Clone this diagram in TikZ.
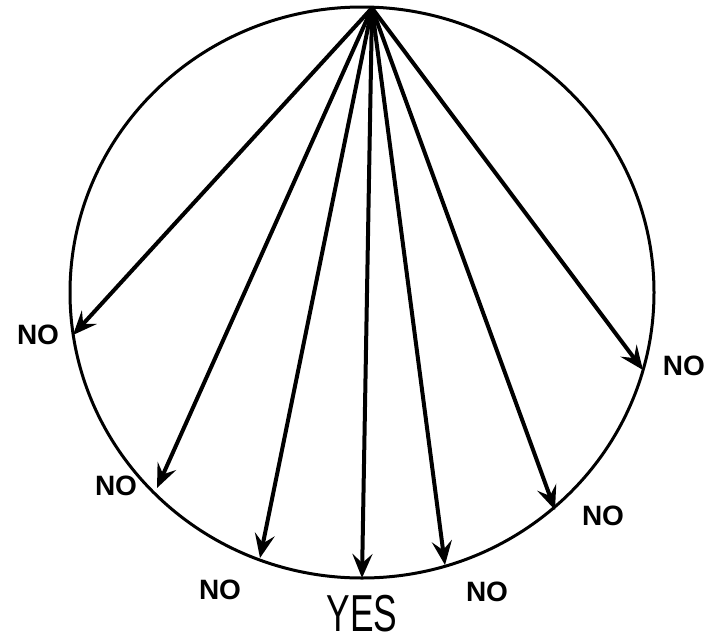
\documentclass[tikz,border=0pt]{standalone}
\usepackage{fontspec}
\setmainfont{Liberation Sans}
\usetikzlibrary{arrows.meta}
\begin{document}
\begin{tikzpicture}[x=1pt,y=-1pt,
  rim/.style={line width=3pt},
  ray/.style={line width=4pt,-{Stealth[length=24pt,width=20pt,inset=9pt]}},
  lbl/.style={font=\bfseries\fontsize{28}{28}\selectfont,inner sep=0pt},
  yes/.style={font=\fontsize{52}{52}\selectfont,inner sep=0pt,xscale=0.68}]
\useasboundingbox (0,0) rectangle (707,643);
\draw[rim] (362,292.5) ellipse [x radius=292, y radius=285.5];
\coordinate (top) at (372,8);
\coordinate (e1) at (73,335);
\coordinate (e2) at (157,488);
\coordinate (e3) at (260,558);
\coordinate (e4) at (362,578);
\coordinate (e5) at (445,565);
\coordinate (e6) at (555,510);
\coordinate (e7) at (643,370);
\foreach \e in {e1,e2,e3,e4,e5,e6,e7} \draw[ray] (top) -- (\e);
\node[lbl] (n1) at (38,335) {NO};
\node[lbl] (n2) at (116,486) {NO};
\node[lbl] (n3) at (220,590) {NO};
\node[yes] (y) at (362,614) {YES};
\node[lbl] (n5) at (487,592) {NO};
\node[lbl] (n6) at (603,516) {NO};
\node[lbl,anchor=east] (n7) at (705,366) {NO};
\end{tikzpicture}
\end{document}
